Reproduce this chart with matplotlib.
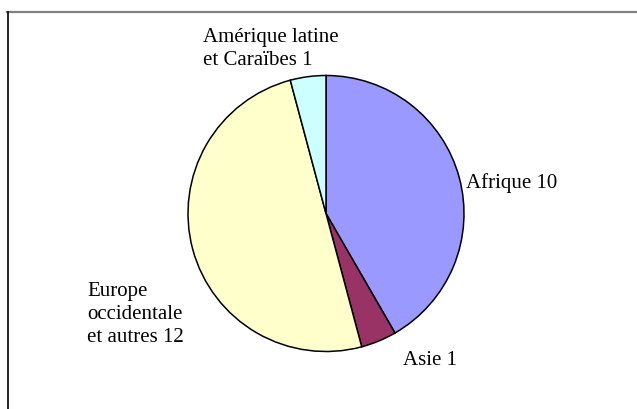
import matplotlib
matplotlib.use('Agg')
import matplotlib.pyplot as plt
from matplotlib.lines import Line2D

# Data
regions = ['Afrique', 'Asie', 'Europe\noccidentale\net autres', 'Amérique latine\net Caraïbes']
counts = [10, 1, 12, 1]
colors = ['#9999FF', '#993366', '#FFFFCC', '#CCFFFF']

# label anchor points (pie radius = 1), baseline of the last line
label_pos = [(1.014, 0.185), (0.558, -1.098), (-1.732, -0.931), (-0.891, 1.076)]

plt.rcParams['font.family'] = ['Liberation Serif', 'DejaVu Serif']

W, H, dpi = 637, 409, 100
fig = plt.figure(figsize=(W / dpi, H / dpi), dpi=dpi)
ax = fig.add_axes([0, 0, 1, 1])

# pie centre and radius in pixels
cx, cy, r = 326, 213.5, 138

wedges, _ = ax.pie(counts, colors=colors, startangle=90, counterclock=False,
                   radius=1, center=(0, 0), frame=False,
                   wedgeprops=dict(edgecolor='black', linewidth=1.1))
ax.set_xlim(-cx / r, (W - cx) / r)
ax.set_ylim(-(H - cy) / r, cy / r)
ax.set_aspect('auto')
ax.axis('off')

for name, n, (x, y) in zip(regions, counts, label_pos):
    ax.text(x, y, f'{name} {n}', ha='left', va='baseline', fontsize=15,
            linespacing=1.3, color='black')

# frame: grey top edge, black left edge
fig.add_artist(Line2D([7 / W, 1], [1 - 12 / H, 1 - 12 / H], transform=fig.transFigure,
                      color='#808080', linewidth=1.6))
fig.add_artist(Line2D([7.5 / W, 7.5 / W], [0, 1 - 12 / H], transform=fig.transFigure,
                      color='black', linewidth=1.2))

fig.savefig('out.png', dpi=dpi)
